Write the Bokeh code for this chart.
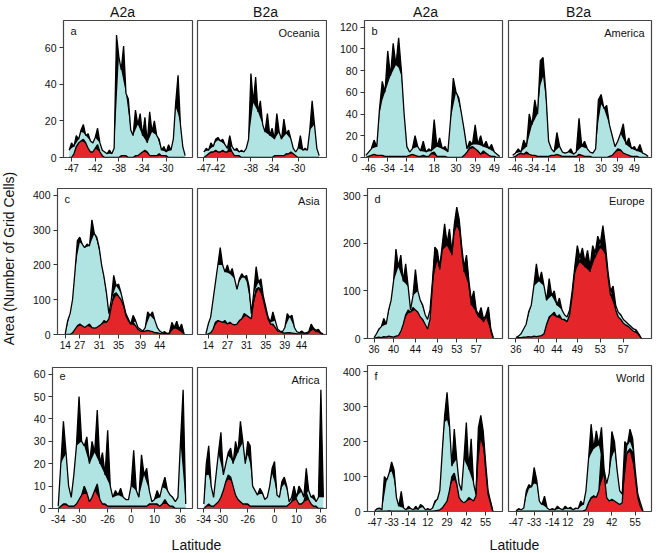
import math
from bokeh.plotting import figure
from bokeh.models import Range1d, FixedTicker, Label, ColumnDataSource
from bokeh.layouts import row, column
from bokeh.embed import file_html
from bokeh.resources import INLINE

FONT = "Liberation Sans"
CYAN = "#afe4e2"
RED = "#e4262b"

IDX = list(range(50))

# ---------------- data (cells along latitude) ----------------
oceania_a2a_cyan = [4, 8, 6, 12, 10, 15, 18, 12, 13, 9, 8, 11, 16, 8, 4, 3, 2, 4, 2, 5,
                    67, 55, 48, 61, 35, 32, 15, 12, 26, 18, 24, 12, 22, 8, 25, 14, 20, 12, 10, 4,
                    6, 3, 7, 4, 10, 30, 45, 18, 6, 1]
oceania_a2a_red = [0, 0, 2, 6, 8, 9, 10, 8, 5, 3, 3, 5, 7, 3, 1, 0, 0, 0, 0, 0,
                   0, 0, 1, 1, 1, 0, 0, 0, 1, 1, 2, 3, 4, 3, 1, 1, 1, 1, 2, 1,
                   1, 1, 0, 0, 0, 0, 0, 0, 0, 0]
oceania_b2a_cyan = [3, 5, 4, 8, 6, 10, 11, 9, 10, 7, 5, 12, 6, 4, 5, 3, 4, 3, 5, 10,
                    46, 30, 44, 25, 31, 18, 14, 24, 12, 16, 10, 24, 14, 10, 21, 13, 15, 10, 5, 3,
                    5, 12, 4, 5, 4, 15, 31, 18, 5, 1]
oceania_b2a_red = [0, 1, 2, 3, 3, 4, 3, 3, 4, 3, 3, 6, 3, 1, 1, 1, 0, 0, 0, 0,
                   0, 0, 0, 0, 0, 0, 0, 0, 0, 0, 1, 1, 1, 1, 1, 2, 2, 3, 2, 1,
                   0, 0, 0, 0, 0, 0, 0, 0, 0, 0]

america_a2a_cyan = [2, 5, 8, 16, 10, 45, 70, 60, 98, 75, 105, 85, 110, 80, 40, 10, 5, 8, 20, 10,
                    6, 15, 5, 8, 6, 35, 10, 18, 8, 10, 5, 35, 73, 60, 55, 40, 25, 8, 15, 12,
                    30, 12, 20, 10, 15, 8, 12, 5, 3, 1]
america_a2a_red = [0, 1, 2, 3, 2, 2, 2, 1, 1, 1, 1, 1, 1, 1, 1, 1, 2, 3, 2, 1,
                   1, 2, 1, 1, 4, 5, 1, 1, 1, 1, 0, 0, 0, 0, 0, 0, 2, 5, 9, 10,
                   8, 6, 3, 6, 4, 2, 1, 1, 0, 0]
america_b2a_cyan = [2, 4, 8, 5, 16, 10, 40, 30, 53, 40, 89, 92, 60, 15, 8, 5, 23, 10, 5, 4,
                    5, 8, 3, 5, 36, 10, 15, 8, 5, 4, 8, 53, 58, 45, 48, 30, 20, 10, 15, 22,
                    31, 12, 18, 8, 10, 6, 12, 4, 3, 1]
america_b2a_red = [0, 1, 3, 4, 3, 5, 3, 2, 2, 1, 1, 1, 1, 1, 2, 2, 3, 2, 1, 1,
                   1, 1, 1, 1, 3, 2, 1, 1, 1, 0, 0, 0, 0, 0, 0, 1, 2, 5, 8, 7,
                   4, 3, 2, 1, 1, 1, 0, 0, 0, 0]

asia_a2a_cyan = [2, 40, 60, 100, 180, 270, 280, 260, 250, 260, 255, 330, 290, 280, 250, 200, 165, 120, 60, 100,
                 170, 140, 145, 120, 90, 60, 45, 30, 55, 40, 20, 15, 10, 20, 65, 55, 65, 40, 20, 10,
                 5, 8, 3, 5, 35, 20, 38, 15, 30, 2]
asia_a2a_red = [0, 0, 0, 5, 15, 25, 30, 25, 20, 25, 30, 20, 18, 20, 25, 30, 40, 35, 45, 80,
                115, 120, 110, 100, 85, 55, 40, 30, 35, 25, 15, 10, 8, 10, 12, 10, 8, 5, 5, 3,
                2, 3, 2, 3, 25, 18, 30, 12, 25, 0]
asia_b2a_cyan = [2, 30, 50, 100, 150, 200, 250, 200, 180, 200, 175, 190, 160, 130, 160, 175, 165, 170, 140, 60,
                 120, 195, 150, 160, 110, 80, 50, 35, 65, 40, 15, 10, 8, 20, 60, 50, 55, 20, 8, 5,
                 10, 4, 5, 8, 30, 18, 12, 15, 5, 2]
asia_b2a_red = [0, 2, 5, 15, 35, 40, 38, 35, 40, 30, 35, 30, 28, 30, 40, 45, 60, 55, 50, 45,
                100, 130, 135, 130, 100, 70, 45, 30, 30, 20, 10, 8, 5, 4, 5, 5, 4, 3, 2, 2,
                2, 2, 2, 5, 25, 15, 8, 10, 3, 0]

europe_a2a_cyan = [2, 10, 20, 25, 42, 30, 60, 80, 120, 188, 150, 175, 120, 157, 110, 60, 90, 145, 100, 80,
                   70, 50, 40, 60, 120, 192, 185, 150, 195, 241, 200, 230, 180, 240, 276, 250, 195, 150, 175, 120,
                   80, 100, 60, 50, 65, 40, 50, 66, 20, 2]
europe_a2a_red = [1, 2, 3, 2, 4, 3, 5, 4, 3, 5, 6, 15, 30, 50, 60, 55, 65, 60, 55, 45,
                  40, 30, 20, 40, 110, 180, 175, 145, 185, 230, 195, 220, 175, 230, 265, 240, 185, 140, 165, 110,
                  70, 90, 55, 45, 55, 35, 45, 55, 15, 0]
europe_b2a_cyan = [2, 5, 10, 20, 30, 56, 70, 110, 157, 120, 140, 110, 80, 126, 90, 100, 70, 85, 60, 50,
                   45, 60, 100, 150, 195, 170, 190, 160, 185, 150, 195, 180, 215, 200, 237, 195, 140, 100, 110, 70,
                   55, 50, 40, 35, 30, 25, 20, 18, 10, 1]
europe_b2a_red = [1, 2, 2, 3, 3, 4, 3, 5, 4, 5, 6, 10, 30, 45, 50, 55, 45, 50, 40, 40,
                  35, 50, 90, 140, 180, 160, 180, 150, 175, 140, 185, 170, 200, 190, 220, 180, 130, 90, 95, 60,
                  45, 40, 32, 28, 25, 20, 15, 14, 8, 0]

africa_a2a_cyan = [1, 20, 39, 25, 10, 5, 15, 28, 50, 30, 28, 32, 20, 30, 25, 44, 20, 25, 15, 35,
                   10, 5, 8, 6, 9, 5, 4, 4, 10, 26, 8, 5, 24, 15, 18, 8, 3, 4, 8, 5,
                   10, 14, 8, 6, 5, 3, 5, 30, 53, 2]
africa_a2a_red = [0, 1, 2, 2, 1, 1, 1, 2, 4, 6, 10, 7, 3, 5, 8, 11, 4, 2, 2, 1,
                  1, 1, 1, 1, 1, 1, 1, 1, 1, 1, 1, 1, 1, 1, 1, 2, 2, 2, 2, 1,
                  2, 4, 2, 1, 1, 0, 0, 0, 0, 0]
africa_b2a_cyan = [2, 20, 28, 10, 5, 15, 25, 34, 15, 20, 25, 27, 20, 30, 25, 39, 30, 20, 30, 28,
                   10, 8, 6, 9, 7, 4, 5, 10, 18, 21, 6, 5, 12, 14, 10, 3, 5, 10, 5, 10,
                   8, 5, 18, 8, 5, 6, 3, 5, 53, 5]
africa_b2a_red = [0, 1, 2, 1, 1, 2, 3, 5, 8, 12, 15, 14, 10, 6, 4, 3, 2, 2, 2, 1,
                  1, 1, 1, 1, 1, 1, 1, 1, 1, 1, 1, 1, 1, 1, 1, 2, 3, 8, 4, 2,
                  2, 3, 7, 4, 2, 1, 1, 0, 0, 0]

world_a2a_cyan = [2, 8, 10, 5, 100, 90, 110, 142, 120, 40, 15, 58, 10, 5, 15, 8, 5, 15, 6, 20,
                  15, 5, 8, 5, 10, 30, 35, 60, 170, 274, 341, 250, 130, 236, 150, 80, 60, 150, 255, 120,
                  208, 80, 50, 240, 275, 230, 140, 60, 30, 2]
world_a2a_red = [0, 0, 1, 1, 1, 1, 2, 1, 1, 1, 1, 1, 1, 1, 1, 1, 1, 1, 1, 1,
                 1, 1, 1, 1, 1, 2, 3, 5, 10, 20, 30, 60, 100, 110, 80, 40, 30, 25, 30, 40,
                 35, 30, 45, 200, 240, 210, 120, 50, 25, 0]
world_b2a_cyan = [2, 8, 5, 10, 60, 77, 70, 126, 90, 30, 20, 44, 10, 5, 8, 5, 15, 8, 5, 15,
                  8, 12, 5, 10, 8, 30, 20, 60, 150, 250, 180, 231, 190, 241, 120, 80, 110, 229, 200, 120,
                  60, 50, 200, 190, 236, 210, 120, 50, 25, 2]
world_b2a_red = [0, 0, 1, 1, 1, 1, 1, 1, 1, 1, 1, 1, 1, 1, 1, 1, 1, 1, 1, 1,
                 1, 1, 1, 1, 1, 1, 2, 5, 25, 40, 45, 40, 60, 170, 110, 40, 30, 35, 30, 25,
                 20, 25, 150, 170, 180, 170, 100, 40, 15, 0]

# tick positions (cell index) and latitude labels
oceania_labels = ["-47", "-42", "-38", "-34", "-30"]
oceania_a2a_ticks = [1, 11, 21, 31, 41]
oceania_b2a_ticks = [0, 6, 20, 29, 40]
america_labels = ["-46", "-34", "-14", "18", "30", "39", "49"]
america_a2a_ticks = [1, 8, 15, 25, 33, 40, 47]
america_b2a_ticks = [1, 7, 13, 24, 32, 38, 44]
asia_labels = ["14", "27", "31", "35", "39", "44"]
asia_a2a_ticks = [0, 6, 14, 22, 31, 39]
asia_b2a_ticks = [1, 9, 17, 25, 33, 40]
europe_labels = ["36", "40", "44", "49", "53", "57"]
europe_a2a_ticks = [0, 8, 17, 26, 34, 42]
europe_b2a_ticks = [0, 9, 16, 24, 33, 42]
africa_labels = ["-34", "-30", "-26", "0", "10", "36"]
africa_a2a_ticks = [0, 8, 19, 28, 37, 47]
africa_b2a_ticks = [0, 7, 18, 29, 38, 48]
world_labels = ["-47", "-33", "-14", "12", "29", "42", "55"]
world_a2a_ticks = [0, 7, 14, 22, 30, 38, 46]
world_b2a_ticks = [0, 7, 14, 20, 28, 37, 46]

oceania_yticks = [0, 20, 40, 60]
america_yticks = [0, 20, 40, 60, 80, 100, 120]
asia_yticks = [0, 100, 200, 300, 400]
europe_yticks = [0, 100, 200, 300]
africa_yticks = [0, 10, 20, 30, 40, 50, 60]
world_yticks = [0, 100, 200, 300, 400]


def envelope_low(vals):
    # lower edge of the dark band drawn on top of each jagged series
    out = []
    n = len(vals)
    for i, v in enumerate(vals):
        a = vals[i - 1] if i > 0 else v
        b = vals[i + 1] if i < n - 1 else v
        out.append(min(v, 0.5 * (a + b)))
    return out


def style_axis(ax, ticks, labels=None, size="10px"):
    ax.ticker = FixedTicker(ticks=ticks)
    if labels is not None:
        ax.major_label_overrides = {t: l for t, l in zip(ticks, labels)}
    ax.axis_line_color = None
    ax.major_tick_out = 4
    ax.major_tick_in = 0
    ax.major_tick_line_color = "#333333"
    ax.minor_tick_line_color = None
    ax.major_label_text_font = FONT
    ax.major_label_text_font_size = size
    ax.major_label_text_color = "#111111"


def make_panel(cyan, red, ticks, labels, xr, yr, yticks, width, height,
               mbl, mbr, mbb, show_y, tag=None, name=None):
    p = figure(width=width, height=height, x_range=Range1d(*xr), y_range=yr,
               output_backend="svg", toolbar_location=None,
               min_border_left=mbl, min_border_right=mbr,
               min_border_top=2, min_border_bottom=mbb,
               y_axis_location="left" if show_y else None)
    p.title.visible = False
    p.xgrid.visible = False
    p.ygrid.visible = False
    p.outline_line_color = "#444444"
    p.outline_line_width = 1.2
    p.background_fill_color = "white"
    p.border_fill_color = "white"
    src = ColumnDataSource(dict(x=IDX, c=cyan, r=red,
                                clo=envelope_low(cyan), rlo=envelope_low(red)))
    p.varea(x="x", y1=0, y2="c", source=src, fill_color=CYAN)
    p.varea(x="x", y1="clo", y2="c", source=src, fill_color="black")
    p.varea(x="x", y1=0, y2="r", source=src, fill_color=RED)
    p.varea(x="x", y1="rlo", y2="r", source=src, fill_color="black")
    p.line("x", "c", source=src, line_color="black", line_width=1.3)
    p.line("x", "r", source=src, line_color="black", line_width=1.3)
    style_axis(p.xaxis[0], ticks, labels, "10px")
    p.xaxis.major_label_standoff = 2
    if show_y:
        style_axis(p.yaxis[0], yticks, None, "10.5px")
        p.yaxis.major_label_standoff = 3
    if tag:
        p.add_layout(Label(x=xr[0], y=yr.end, x_offset=7, y_offset=-4, text=tag,
                           text_baseline="top", text_align="left",
                           text_font=FONT, text_font_size="11px", text_color="#111111"))
    if name:
        p.add_layout(Label(x=xr[1], y=yr.end, x_offset=-7, y_offset=-6, text=name,
                           text_baseline="top", text_align="right",
                           text_font=FONT, text_font_size="11px", text_color="#111111"))
    return p


# y ranges shared inside each pair
yr_oce = Range1d(0, 75)
yr_ame = Range1d(0, 126)
yr_asi = Range1d(0, 420)
yr_eur = Range1d(0, 315)
yr_afr = Range1d(0, 63)
yr_wor = Range1d(0, 418)

pa = make_panel(oceania_a2a_cyan, oceania_a2a_red, oceania_a2a_ticks, oceania_labels,
                (-2.4, 52.1), yr_oce, oceania_yticks, 170, 168, 39, 2, 29, True, tag="a")
pa2 = make_panel(oceania_b2a_cyan, oceania_b2a_red, oceania_b2a_ticks, oceania_labels,
                 (-2.7, 52.1), yr_oce, oceania_yticks, 133, 168, 3, 1, 29, False, name="Oceania")
pc = make_panel(asia_a2a_cyan, asia_a2a_red, asia_a2a_ticks, asia_labels,
                (-3.2, 52.5), yr_asi, asia_yticks, 170, 179, 33, 2, 31, True, tag="c")
pc2 = make_panel(asia_b2a_cyan, asia_b2a_red, asia_b2a_ticks, asia_labels,
                 (-3.5, 50.4), yr_asi, asia_yticks, 133, 179, 3, 1, 31, False, name="Asia")
pe = make_panel(africa_a2a_cyan, africa_a2a_red, africa_a2a_ticks, africa_labels,
                (-2.2, 51.6), yr_afr, africa_yticks, 170, 165, 28, 2, 22, True, tag="e")
pe2 = make_panel(africa_b2a_cyan, africa_b2a_red, africa_b2a_ticks, africa_labels,
                 (-2.6, 50.3), yr_afr, africa_yticks, 133, 165, 3, 1, 22, False, name="Africa")

pb = make_panel(america_a2a_cyan, america_a2a_red, america_a2a_ticks, america_labels,
                (-0.5, 50.0), yr_ame, america_yticks, 177, 168, 37, 2, 29, True, tag="b")
pb2 = make_panel(america_b2a_cyan, america_b2a_red, america_b2a_ticks, america_labels,
                 (-1.5, 50.2), yr_ame, america_yticks, 157, 168, 4, 10, 29, False, name="America")
pd = make_panel(europe_a2a_cyan, europe_a2a_red, europe_a2a_ticks, europe_labels,
                (-2.7, 52.8), yr_eur, europe_yticks, 177, 177, 40, 2, 25, True, tag="d")
pd2 = make_panel(europe_b2a_cyan, europe_b2a_red, europe_b2a_ticks, europe_labels,
                 (-2.9, 53.0), yr_eur, europe_yticks, 157, 177, 4, 10, 25, False, name="Europe")
pf = make_panel(world_a2a_cyan, world_a2a_red, world_a2a_ticks, world_labels,
                (-3.0, 53.0), yr_wor, world_yticks, 177, 167, 40, 2, 19, True, tag="f")
pf2 = make_panel(world_b2a_cyan, world_b2a_red, world_b2a_ticks, world_labels,
                 (-2.9, 52.3), yr_wor, world_yticks, 157, 167, 4, 10, 19, False, name="World")


def strip(width, height):
    s = figure(width=width, height=height, x_range=Range1d(0, width), y_range=Range1d(0, height),
               output_backend="svg", toolbar_location=None, min_border=0,
               x_axis_location=None, y_axis_location=None)
    s.title.visible = False
    s.outline_line_color = None
    s.xgrid.visible = False
    s.ygrid.visible = False
    return s


top = strip(661, 18)
for txt, xc in [("A2a", 122), ("B2a", 265), ("A2a", 425), ("B2a", 578)]:
    top.add_layout(Label(x=xc, y=7, text=txt, text_align="center", text_baseline="middle",
                         text_font=FONT, text_font_size="14px", text_color="#111111"))

bottom = strip(661, 23)
for xc in [196, 514]:
    bottom.add_layout(Label(x=xc, y=9, text="Latitude", text_align="center", text_baseline="middle",
                            text_font=FONT, text_font_size="14px", text_color="#111111"))

ylab = strip(24, 512)
ylab.add_layout(Label(x=8, y=272, text="Area (Number of Grid Cells)", angle=math.pi / 2,
                      text_align="center", text_baseline="middle",
                      text_font=FONT, text_font_size="14px", text_color="#111111"))

left_col = column(row(pa, pa2), row(pc, pc2), row(pe, pe2))
right_col = column(row(pb, pb2), row(pd, pd2), row(pf, pf2))
layout = column(top, row(ylab, left_col, right_col), bottom)

open("out.html", "w").write(file_html(layout, INLINE))
